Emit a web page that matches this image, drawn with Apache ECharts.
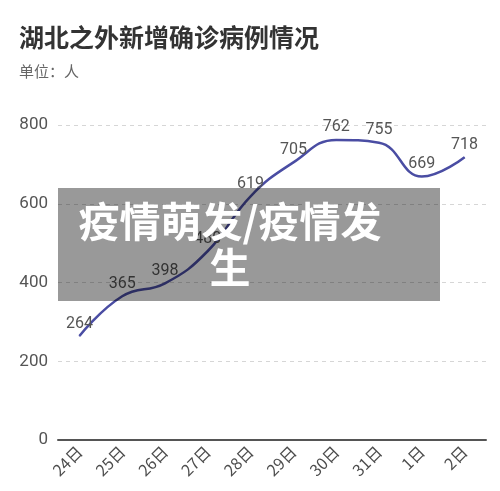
<!DOCTYPE html>
<html>
<head>
<meta charset="utf-8">
<script src="https://cdn.jsdelivr.net/npm/echarts@6/dist/echarts.min.js"></script>
<style>
html,body{margin:0;padding:0;background:#fff;}
#chart{width:500px;height:491px;}
</style>
</head>
<body>
<div id="chart"></div>
<script>
const categories = ['24日','25日','26日','27日','28日','29日','30日','31日','1日','2日'];
const newCases = [264, 365, 398, 480, 619, 705, 762, 755, 669, 718];
const yTicks = [0, 200, 400, 600, 800];
const titleText = '湖北之外新增确诊病例情况';
const unitText = '单位：人';
const overlayText = '疫情萌发/疫情发\n生';

const chart = echarts.init(document.getElementById('chart'));
const font = '"Noto Sans CJK SC", "Noto Sans", sans-serif';
chart.setOption({
  backgroundColor: '#fff',
  animation: false,
  title: {
    text: titleText,
    subtext: unitText,
    left: 14,
    top: 20,
    itemGap: 14,
    textStyle: {fontSize: 25, fontWeight: 'bold', color: '#333', fontFamily: font},
    subtextStyle: {fontSize: 15, color: '#666', fontFamily: font}
  },
  grid: {left: 58, right: 14, top: 125, bottom: 51},
  xAxis: {
    type: 'category',
    data: categories,
    boundaryGap: true,
    axisLine: {lineStyle: {color: '#555', width: 2}},
    axisTick: {alignWithLabel: true, length: 5, lineStyle: {color: '#555', width: 2}},
    axisLabel: {rotate: 45, fontSize: 16, color: '#4d4d4d', margin: 9, fontFamily: font}
  },
  yAxis: {
    type: 'value',
    min: yTicks[0],
    max: yTicks[yTicks.length - 1],
    interval: 200,
    axisLine: {show: false},
    axisTick: {show: false},
    axisLabel: {fontSize: 17, color: '#555', margin: 10, fontFamily: 'Roboto, sans-serif'},
    splitLine: {lineStyle: {color: '#d6d6d6', type: [4, 4], width: 1}}
  },
  series: [{
    type: 'line',
    data: newCases,
    smooth: 0.45,
    smoothMonotone: null,
    symbol: 'circle',
    symbolSize: 1,
    itemStyle: {color: '#4a4da3'},
    lineStyle: {color: '#4a4da3', width: 2.5},
    label: {show: true, position: 'top', distance: 4, fontSize: 16, color: '#555', fontFamily: 'Roboto, sans-serif'}
  }],
  graphic: [
    {
      type: 'rect',
      z: 100,
      shape: {x: 58, y: 188, width: 382, height: 113},
      style: {fill: 'rgba(0,0,0,0.4)'}
    },
    {
      type: 'text',
      z: 101,
      x: 230,
      y: 244,
      style: {
        text: overlayText,
        fill: '#fff',
        font: 'bold 41px "Noto Sans CJK SC"',
        lineHeight: 46,
        align: 'center',
        verticalAlign: 'middle'
      }
    }
  ]
});
</script>
</body>
</html>
